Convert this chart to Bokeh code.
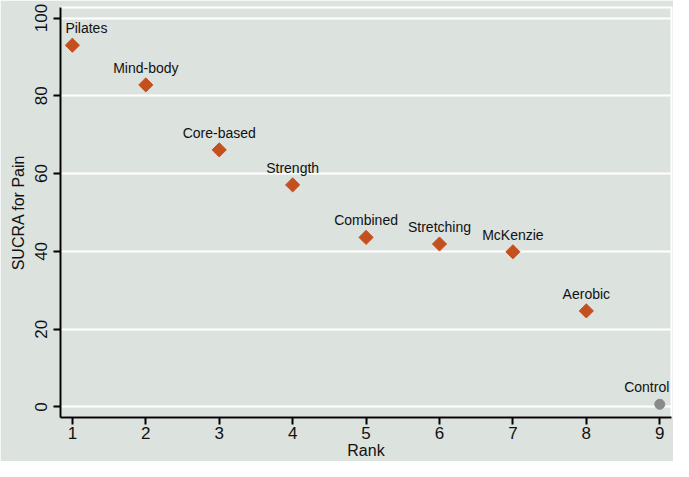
import math
from bokeh.plotting import figure
from bokeh.models import ColumnDataSource, FixedTicker, Range1d, LabelSet
from bokeh.core.properties import value
from bokeh.embed import file_html
from bokeh.resources import INLINE

treatments = ["Pilates", "Mind-body", "Core-based", "Strength", "Combined",
              "Stretching", "McKenzie", "Aerobic"]
ranks = [1, 2, 3, 4, 5, 6, 7, 8]
sucra = [93.0, 82.8, 66.1, 57.1, 43.6, 41.9, 39.9, 24.7]

control_name = ["Control"]
control_rank = [9]
control_sucra = [0.7]

label_xoff = [14, 0, 0, 0, 0, 0, 0, 0]
control_xoff = [-13]

bg = "#dce2de"
font = "Liberation Sans"

p = figure(width=673, height=461, output_backend="svg", toolbar_location=None,
           x_range=Range1d(0.838, 9.16), y_range=Range1d(-2.7, 102.7),
           background_fill_color=bg, border_fill_color=bg,
           min_border_left=60, min_border_right=2, min_border_top=7,
           min_border_bottom=44)
p.outline_line_color = "white"
p.outline_line_width = 2

src = ColumnDataSource(dict(x=ranks, y=sucra, name=treatments, xo=label_xoff))
csrc = ColumnDataSource(dict(x=control_rank, y=control_sucra, name=control_name, xo=control_xoff))

p.scatter("x", "y", source=src, marker="square", size=10, angle=math.pi / 4,
          fill_color="#c4501e", line_color="#c4501e")
p.scatter("x", "y", source=csrc, marker="circle", size=10,
          fill_color="#8a8a8a", line_color="#8a8a8a")

for s in (src, csrc):
    p.add_layout(LabelSet(x="x", y="y", text="name", source=s, x_offset="xo",
                          y_offset=12, text_align="center",
                          text_baseline="alphabetic", text_font=value(font),
                          text_font_size="14px", text_color="#111111"))

p.xgrid.visible = False
p.ygrid.ticker = FixedTicker(ticks=[0, 20, 40, 60, 80, 100])
p.ygrid.grid_line_color = "white"
p.ygrid.grid_line_width = 2

p.xaxis.ticker = FixedTicker(ticks=[1, 2, 3, 4, 5, 6, 7, 8, 9])
p.yaxis.ticker = FixedTicker(ticks=[0, 20, 40, 60, 80, 100])
p.yaxis.major_label_orientation = "vertical"

for ax in (p.xaxis, p.yaxis):
    ax.axis_line_color = "black"
    ax.axis_line_width = 2
    ax.major_tick_line_color = "black"
    ax.major_tick_line_width = 2
    ax.major_tick_out = 7
    ax.major_tick_in = 0
    ax.minor_tick_line_color = None
    ax.major_label_text_font = font
    ax.major_label_text_font_size = "17px"
    ax.major_label_text_color = "#111111"
    ax.axis_label_text_font = font
    ax.axis_label_text_font_size = "16px"
    ax.axis_label_text_font_style = "normal"
    ax.axis_label_text_color = "#111111"

p.xaxis.axis_label = "Rank"
p.yaxis.axis_label = "SUCRA for Pain"
p.xaxis.major_label_standoff = 2
p.xaxis.axis_label_standoff = 0
p.yaxis.major_label_standoff = 6
p.yaxis.axis_label_standoff = 6

open("out.html", "w").write(file_html(p, INLINE))
